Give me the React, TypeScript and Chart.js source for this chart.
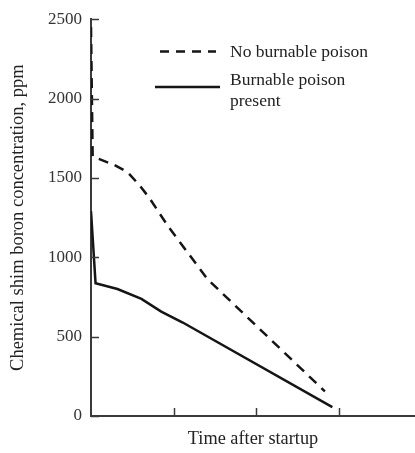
import React, { useEffect, useRef } from "react";
import { Chart, registerables } from "chart.js";

Chart.register(...registerables);

// Data (x in arbitrary time units, y in ppm)
const noPoisonX = [0, 0.02, 0.28, 0.44, 0.59, 0.71, 0.93, 1.41, 2.83];
const noPoisonY = [2450, 1635, 1582, 1538, 1452, 1371, 1197, 862, 155];
const poisonX = [0, 0.055, 0.32, 0.61, 0.85, 1.11, 2.92];
const poisonY = [1290, 837, 800, 738, 658, 589, 56];
const yTickValues = [0, 500, 1000, 1500, 2000, 2500];
const xTickValues = [1, 2, 3];
const legendLabels = ["No burnable poison", "Burnable poison", "present"];
const seriesNames = ["No burnable poison", "Burnable poison present"];

const FONT = "'Liberation Serif', 'DejaVu Serif', serif";
const INK = "#151515";
const AXIS = "#3a3a3a";

const overlay = {
  id: "overlay",
  afterDraw(chart: any) {
    const ctx = chart.ctx;
    const xs = chart.scales.x;
    const ys = chart.scales.y;
    const area = chart.chartArea;
    ctx.save();
    // inward tick marks
    ctx.strokeStyle = AXIS;
    ctx.lineWidth = 1.5;
    ctx.setLineDash([]);
    yTickValues.forEach((v) => {
      const py = Math.round(ys.getPixelForValue(v)) + 0.5;
      ctx.beginPath();
      ctx.moveTo(area.left, py);
      ctx.lineTo(area.left + 8, py);
      ctx.stroke();
    });
    xTickValues.forEach((v) => {
      const px = Math.round(xs.getPixelForValue(v)) + 0.5;
      ctx.beginPath();
      ctx.moveTo(px, area.bottom);
      ctx.lineTo(px, area.bottom - 8);
      ctx.stroke();
    });
    // legend
    ctx.strokeStyle = INK;
    ctx.lineWidth = 2.5;
    ctx.setLineDash([9, 7]);
    ctx.beginPath();
    ctx.moveTo(160, 51.5);
    ctx.lineTo(216, 51.5);
    ctx.stroke();
    ctx.setLineDash([]);
    ctx.beginPath();
    ctx.moveTo(155, 87);
    ctx.lineTo(220, 87);
    ctx.stroke();
    ctx.fillStyle = "#222";
    ctx.font = `17.5px ${FONT}`;
    ctx.textBaseline = "alphabetic";
    ctx.textAlign = "left";
    ctx.fillText(legendLabels[0], 230, 57);
    ctx.fillText(legendLabels[1], 230, 85);
    ctx.fillText(legendLabels[2], 230, 106);
    ctx.restore();
  },
};

export default function App() {
  const ref = useRef<HTMLCanvasElement>(null);
  useEffect(() => {
    if (!ref.current) return;
    const chart = new Chart(ref.current, {
      type: "line",
      data: {
        datasets: [
          {
            label: seriesNames[0],
            data: noPoisonX.map((x, i) => ({ x, y: noPoisonY[i] })),
            borderColor: INK,
            borderWidth: 2.5,
            borderDash: [10, 7],
            pointRadius: 0,
            tension: 0,
            fill: false,
          },
          {
            label: seriesNames[1],
            data: poisonX.map((x, i) => ({ x, y: poisonY[i] })),
            borderColor: INK,
            borderWidth: 2.5,
            pointRadius: 0,
            tension: 0,
            fill: false,
          },
        ],
      },
      options: {
        responsive: false,
        animation: false,
        layout: { padding: { top: 13, right: 0, left: 0, bottom: 0 } },
        plugins: {
          legend: { display: false },
          tooltip: { enabled: false },
          title: { display: false },
        },
        scales: {
          x: {
            type: "linear",
            min: 0,
            max: 3.92,
            grid: { display: true, drawOnChartArea: false, drawTicks: false },
            border: { display: true, color: AXIS, width: 2 },
            ticks: { display: false },
            title: {
              display: true,
              text: "Time after startup",
              color: "#222",
              font: { family: FONT, size: 18.3 },
              padding: { top: 0, bottom: 3 },
            },
            afterFit: (s: any) => {
              s.height = 37;
            },
          },
          y: {
            type: "linear",
            min: 0,
            max: 2500,
            afterBuildTicks: (s: any) => {
              s.ticks = yTickValues.map((v) => ({ value: v }));
            },
            grid: { display: true, drawOnChartArea: false, drawTicks: false },
            border: { display: true, color: AXIS, width: 2 },
            ticks: {
              color: "#333",
              padding: 9,
              font: { family: FONT, size: 17 },
              callback: (v: any) => String(v),
            },
            title: {
              display: true,
              text: "Chemical shim boron concentration, ppm",
              color: "#222",
              font: { family: FONT, size: 18.5 },
              padding: { top: 7, bottom: 0 },
            },
            afterFit: (s: any) => {
              s.width = 91;
            },
          },
        },
      },
      plugins: [overlay],
    });
    return () => chart.destroy();
  }, []);
  return (
    <div style={{ position: "absolute", left: 0, top: 0, width: 415, height: 453, background: "#fff" }}>
      <canvas ref={ref} width={415} height={453} />
    </div>
  );
}
